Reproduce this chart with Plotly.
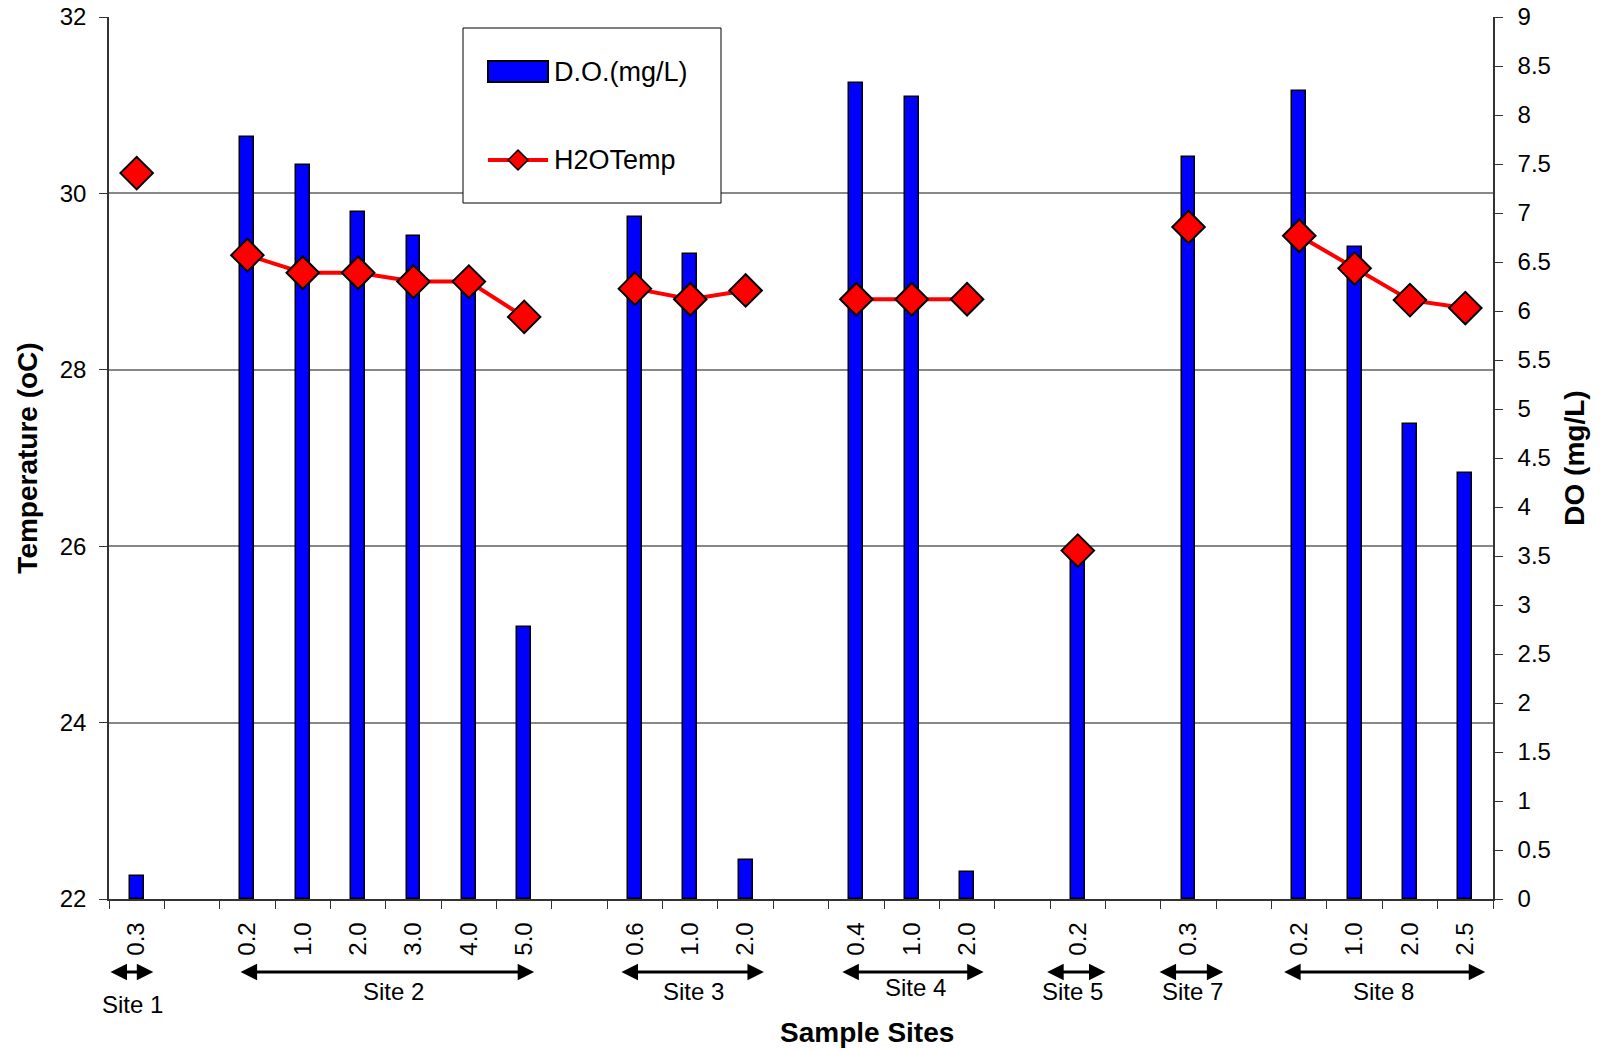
import plotly.graph_objects as go

# ---------------- data ----------------
depth_labels = ["0.3", "", "0.2", "1.0", "2.0", "3.0", "4.0", "5.0", "",
                "0.6", "1.0", "2.0", "", "0.4", "1.0", "2.0", "",
                "0.2", "", "0.3", "", "0.2", "1.0", "2.0", "2.5"]
do_mgl = [0.23, None, 7.78, 7.49, 7.01, 6.77, 6.2, 2.78, None,
          6.96, 6.58, 0.40, None, 8.33, 8.18, 0.28, None,
          3.5, None, 7.57, None, 8.25, 6.65, 4.85, 4.35]
h2o_temp = [30.23, None, 29.3, 29.1, 29.1, 29.0, 29.0, 28.6, None,
            28.92, 28.8, 28.9, None, 28.8, 28.8, 28.8, None,
            25.95, None, 29.62, None, 29.52, 29.15, 28.79, 28.7]
site_names = ["Site 1", "Site 2", "Site 3", "Site 4", "Site 5", "Site 7", "Site 8"]

# ---------------- layout config ----------------
W, H = 1602, 1052
L, R, T, B = 109, 1493, 17, 899   # plot area in page pixels
FONT = "Liberation Sans, Arial, sans-serif"

def px(X):
    return (X - L) / (R - L)

def py(Y):
    return (B - Y) / (B - T)

# arrow extents (category units) and label placement for each site
site_arrows = [(-0.5, 0.3), (1.85, 7.18), (8.73, 11.33), (12.72, 15.3),
               (16.42, 17.5), (18.45, 19.63), (20.7, 24.36)]
site_label_x = [-0.08, 4.63, 10.05, 14.06, 16.9, 19.08, 22.53]
site_label_y = [1004, 991, 991, 988, 991, 991, 991]
arrow_y = 972

x = list(range(len(depth_labels)))

fig = go.Figure()
fig.add_trace(go.Bar(
    x=x, y=do_mgl, width=0.25, yaxis="y", name="D.O.(mg/L)",
    marker=dict(color="#0000FF", line=dict(color="black", width=1.5)),
    showlegend=False,
))
fig.add_trace(go.Scatter(
    x=x, y=h2o_temp, yaxis="y2", name="H2OTemp", mode="lines+markers",
    line=dict(color="#FF0000", width=4),
    marker=dict(symbol="diamond", size=25, color="#FF0000",
                line=dict(color="black", width=2)),
    showlegend=False,
))

annotations = []
for (a0, a1), name, lx, ly in zip(site_arrows, site_names, site_label_x, site_label_y):
    annotations.append(dict(
        x=a1, y=py(arrow_y), xref="x", yref="paper",
        ax=a0, ay=0, axref="x", ayref="pixel",
        text="", showarrow=True, arrowhead=2, arrowside="end+start",
        arrowsize=1.1, arrowwidth=3, arrowcolor="black",
    ))
    annotations.append(dict(
        x=lx, y=py(ly), xref="x", yref="paper", text=name, showarrow=False,
        xanchor="center", yanchor="middle",
        font=dict(family=FONT, size=24, color="black"),
    ))

# x-axis title (placed as in the original, right of centre)
annotations.append(dict(x=px(867), y=py(1032), xref="paper", yref="paper",
                        text="<b>Sample Sites</b>", showarrow=False,
                        xanchor="center", yanchor="middle",
                        font=dict(family=FONT, size=28, color="black")))

# manual legend
annotations.append(dict(x=px(552), y=py(72), xref="paper", yref="paper",
                        text="D.O.(mg/L)", showarrow=False, xanchor="left",
                        yanchor="middle", font=dict(family=FONT, size=27, color="black")))
annotations.append(dict(x=px(552), y=py(160), xref="paper", yref="paper",
                        text="H2OTemp", showarrow=False, xanchor="left",
                        yanchor="middle", font=dict(family=FONT, size=27, color="black")))

dx, dy = 10 / (R - L), 10 / (B - T)
cx, cy = px(518), py(160)
shapes = [
    dict(type="rect", xref="paper", yref="paper", x0=px(463), x1=px(721),
         y0=py(203), y1=py(28), fillcolor="white",
         line=dict(color="black", width=1), layer="above"),
    dict(type="rect", xref="paper", yref="paper", x0=px(488), x1=px(548),
         y0=py(82), y1=py(61), fillcolor="#0000FF",
         line=dict(color="black", width=2), layer="above"),
    dict(type="line", xref="paper", yref="paper", x0=px(488), x1=px(548),
         y0=cy, y1=cy, line=dict(color="#FF0000", width=4), layer="above"),
    dict(type="path", xref="paper", yref="paper",
         path=f"M {cx},{cy + dy} L {cx + dx},{cy} L {cx},{cy - dy} L {cx - dx},{cy} Z",
         fillcolor="#FF0000", line=dict(color="black", width=1.5), layer="above"),
]

fig.update_layout(
    width=W, height=H,
    margin=dict(l=L, r=W - R, t=T, b=H - B, autoexpand=False),
    paper_bgcolor="white", plot_bgcolor="white",
    font=dict(family=FONT, size=24, color="black"),
    bargap=0,
    xaxis=dict(
        range=[-0.5, len(depth_labels) - 0.5],
        tickmode="array",
        tickvals=[i for i, l in enumerate(depth_labels) if l],
        ticktext=[l for l in depth_labels if l],
        tickangle=-90, ticks="", ticklabelstandoff=12,
        tickfont=dict(family=FONT, size=24, color="black"),
        minor=dict(tickmode="array",
                   tickvals=[i - 0.5 for i in range(len(depth_labels) + 1)],
                   ticks="outside", ticklen=8, tickcolor="#333333", showgrid=False),
        showline=True, linecolor="#333333", linewidth=1.5,
        showgrid=False, zeroline=False,
    ),
    yaxis=dict(
        side="right", range=[0, 9], tickmode="linear", tick0=0, dtick=0.5,
        ticks="outside", ticklen=8, tickcolor="#333333", ticklabelstandoff=10,
        ticklabeloverflow="allow",
        showline=True, linecolor="#333333", linewidth=1.5,
        showgrid=False, zeroline=False,
        tickfont=dict(family=FONT, size=24, color="black"),
        title=dict(text="DO (mg/L)", standoff=14,
                   font=dict(family=FONT, size=28, color="black", weight="bold")),
    ),
    yaxis2=dict(
        overlaying="y", side="left", range=[22, 32], tickmode="linear",
        tick0=22, dtick=2,
        ticks="outside", ticklen=8, tickcolor="#333333", ticklabelstandoff=8,
        ticklabeloverflow="allow",
        showline=True, linecolor="#333333", linewidth=1.5,
        showgrid=True, gridcolor="#888888", gridwidth=1.5, zeroline=False,
        tickfont=dict(family=FONT, size=24, color="black"),
        title=dict(text="Temperature (oC)", standoff=14,
                   font=dict(family=FONT, size=28, color="black", weight="bold")),
    ),
    annotations=annotations,
    shapes=shapes,
)

fig.write_html("out.html", config={"displayModeBar": False},
               post_script="document.body.style.margin='0';")
